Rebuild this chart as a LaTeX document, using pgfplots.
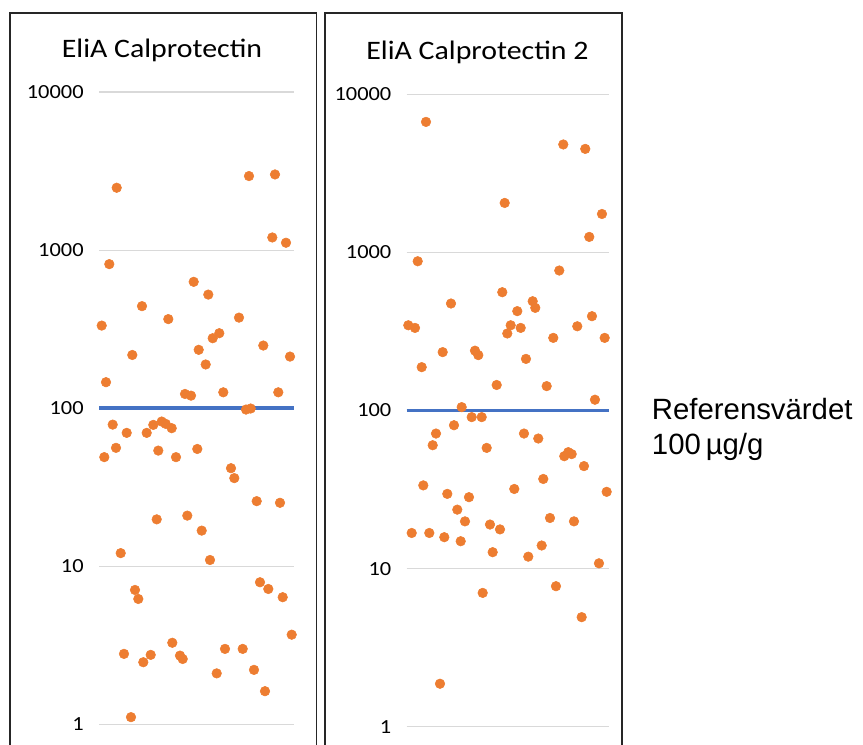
\documentclass[border=0pt]{standalone}
\usepackage{pgfplots}
\pgfplotsset{compat=1.18}
\usepackage{fontspec}
\setmainfont{Liberation Sans}
\newfontfamily\calibri{Carlito}
\newfontfamily\calibriw[FakeStretch=1.12]{Carlito}
\definecolor{dotorange}{HTML}{ED7D31}
\definecolor{refblue}{HTML}{4472C4}
\definecolor{gridgray}{HTML}{D9D9D9}

\pgfplotstableread{
x y
116.7 2480
249 2940
275 3010
272.3 1202
286 1113
109.3 815
193.7 630
208.3 523
142 442
168.3 366
239 374
101.7 333
219.3 298
212.7 277
263.3 249
290 212
132.3 217
198.7 234
205.7 189
106 146
185 123
191 120
223.3 126
278.3 126
246 98
250.7 99.5
112.7 78.7
126.7 69.8
146.7 69.8
153.3 78.4
161.7 82.3
165.7 79.6
171.7 74.7
116 56.1
104.3 49.0
158.3 53.9
176 49.0
197.3 55.2
231 41.7
234.3 36.1
256.7 25.8
280 25.2
156.7 19.8
187.3 20.9
201.7 16.8
210 10.95
120.7 12.1
135 7.08
138.3 6.21
260 7.92
268.3 7.18
282.7 6.37
291.7 3.69
172.3 3.28
225 3.0
242.7 3.0
124 2.79
143.3 2.47
150.7 2.75
180 2.72
182.7 2.59
216.7 2.10
254 2.21
265 1.62
131 1.11
}\leftdata

\pgfplotstableread{
x y
426 6690
563.3 4815
585.3 4515
504.7 2055
602 1750
589.3 1253
417.7 879
559.3 768
502.3 560
451 475
532.7 491
535.3 446
517.3 425
592 395
408.3 346
415 333
510.7 346
520.7 333
507.3 307
577.3 341
553.3 288
604.7 288
442.7 234
475 239
478.3 224
526 212
421.7 188
496.7 145
546.7 142.6
595 117
461.7 105
471.7 90.8
481.7 90.8
454 80.7
436 71.5
432.7 60.3
524 71.5
538.3 66.5
486.7 58.0
568.3 54.5
564.3 51.4
571.7 53
584 44.5
423.3 33.6
447.3 29.7
469 28.3
514.3 31.9
543.3 36.9
606.7 30.6
457.3 23.6
465 19.9
550 20.9
574 19.9
490 19.0
500 17.7
411.7 16.8
429.3 16.8
444.3 15.8
460.7 14.9
492.7 12.7
528.3 11.9
541.7 14.0
599 10.8
482.7 7.02
556 7.74
581.7 4.93
440 1.87
}\rightdata

\begin{document}
\begin{tikzpicture}
\begin{scope}[x=0.75pt, y=0.75pt]
\path[use as bounding box] (0,0) rectangle (863,744);
% frames
\draw[black!85, line width=0.9pt] (10,-5) -- (10,731) -- (316.5,731) -- (316.5,-5);
\draw[black!85, line width=0.9pt] (325,-5) -- (325,731) -- (622,731) -- (622,-5);
\end{scope}

\begin{axis}[
    at={(74.25pt,14.775pt)}, anchor=south west, xmin=99, xmax=294,
    scale only axis, width=146.25pt, height=474.2pt,
    ymode=log, ymin=1, ymax=10000,
    ytick={1,10,100,1000,10000},
    yticklabels={1,10,100,1000,10000},
    minor ytick={},
    xtick=\empty,
    axis line style={draw=none},
    tick style={draw=none},
    major tick length=0pt,
    minor tick length=0pt,
    ymajorgrids,
    grid style={gridgray, line width=0.8pt},
    yticklabel style={font=\calibriw\fontsize{15}{17}\selectfont, xshift=-8pt},
    clip=false]
\addplot[refblue, line width=2.8pt, no marks] coordinates {(99,100) (294,100)};
\addplot[only marks, mark=*, mark size=3.6pt, draw=dotorange, fill=dotorange] table[x=x, y=y] {\leftdata};
\end{axis}

\begin{axis}[
    at={(305.025pt,12.975pt)}, anchor=south west, xmin=406.7, xmax=609,
    scale only axis, width=151.7pt, height=474.3pt,
    ymode=log, ymin=1, ymax=10000,
    ytick={1,10,100,1000,10000},
    yticklabels={1,10,100,1000,10000},
    minor ytick={},
    xtick=\empty,
    axis line style={draw=none},
    tick style={draw=none},
    major tick length=0pt,
    minor tick length=0pt,
    ymajorgrids,
    grid style={gridgray, line width=0.8pt},
    yticklabel style={font=\calibriw\fontsize{15}{17}\selectfont, xshift=-8pt},
    clip=false]
\addplot[refblue, line width=2.8pt, no marks] coordinates {(406.7,100) (609,100)};
\addplot[only marks, mark=*, mark size=3.6pt, draw=dotorange, fill=dotorange] table[x=x, y=y] {\rightdata};
\end{axis}

\begin{scope}[x=0.75pt, y=0.75pt]
\node[anchor=base, font=\calibriw\fontsize{20}{24}\selectfont] at (162,686) {EliA Calprotectin};
\node[anchor=base, font=\calibriw\fontsize{20}{24}\selectfont] at (477.5,684) {EliA Calprotectin 2};

\node[anchor=base west, inner sep=0pt, font=\fontsize{22}{27}\selectfont] at (651.7,324.7) {Referensvärdet};
\node[anchor=base west, inner sep=0pt, font=\fontsize{22}{27}\selectfont] at (651.7,290) {100\,µg/g};
\end{scope}
\end{tikzpicture}
\end{document}
